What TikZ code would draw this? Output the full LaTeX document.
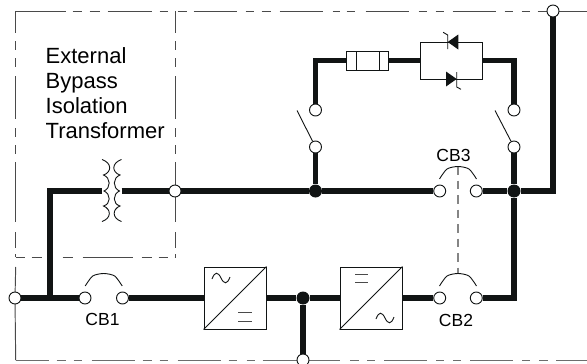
\documentclass[tikz,border=0pt]{standalone}
\usepackage{fontspec}
\setmainfont{Liberation Sans}
\usetikzlibrary{backgrounds}
\definecolor{ink}{HTML}{111414}
\definecolor{framec}{HTML}{4A4A4A}
\definecolor{linkc}{HTML}{858585}
\tikzset{
  bus/.style={line width=5.6pt,draw=ink,line cap=butt,line join=miter},
  thin/.style={line width=0.9pt,draw=ink},
  frameline/.style={line width=0.95pt,draw=framec},
  term/.style={circle,draw=ink,line width=0.9pt,fill=white,minimum size=12pt,inner sep=0pt},
  joint/.style={circle,fill=ink,draw=none,minimum size=13pt,inner sep=0pt},
  conv/.style={rectangle,draw=ink,line width=0.9pt,fill=white,minimum size=62pt,inner sep=0pt},
  vframe/.style={frameline,dash pattern=on 22pt off 8pt on 9pt off 8pt on 9pt off 9pt on 43pt off 9pt on 9pt off 8pt on 9pt off 8pt on 60pt off 10pt on 16pt off 6pt on 3pt off 200pt},
  cblabel/.style={inner sep=0pt,font=\fontsize{17.5}{20}\selectfont},
  pics/brk/.style={code={\draw[thin] plot[smooth,tension=0.45] coordinates {(-18.5,0) (-11,-10) (0,-12.5) (11,-10) (18.5,0)};}},
  pics/wave/.style={code={\draw[thin] (-9,1) .. controls (-6,-7) and (-3,-6) .. (0,0) .. controls (3,6) and (6,7) .. (9,-1);}},
  pics/coil/.style={code={\draw[thin] (0,-31.5) .. controls (10,-28) and (10,-19) .. (1.5,-16) .. controls (9,-13) and (9,-3) .. (2,0) .. controls (9,3) and (9,13) .. (1.5,15) .. controls (9,18) and (10,27) .. (0,30.5);}}
}
\begin{document}
\begin{tikzpicture}[x=1pt,y=-1pt]
\useasboundingbox (0,0) rectangle (587,364);
% free ends
\coordinate (tl) at (15.7,11);
\coordinate (tm) at (175,11);
\coordinate (tr) at (587,11);
\coordinate (bl) at (15.7,257);
\coordinate (bm) at (175,257);
\coordinate (ll) at (15.7,360);
\coordinate (lstub) at (15.7,267);
\coordinate (rr) at (587,360);
\coordinate (tee) at (50,298);
\coordinate (cl) at (102,191);
\coordinate (cr) at (121.5,191);
\coordinate (bladeL) at (297,110.5);
\coordinate (bladeR) at (495,110.5);
\coordinate (lkT) at (458,166);
\coordinate (lkB) at (458,273);
% terminals
\node[term] (inL) at (15,298) {};
\node[term] (cb1a) at (85,298) {};
\node[term] (cb1b) at (122.5,298) {};
\node[term] (cb2a) at (439.7,298) {};
\node[term] (cb2b) at (476.3,298) {};
\node[term] (cb3a) at (439.7,191) {};
\node[term] (cb3b) at (476.3,191) {};
\node[term] (xo) at (175,191) {};
\node[term] (top) at (553,11) {};
\node[term] (bot) at (303,360) {};
\node[term] (s1t) at (315.5,110) {};
\node[term] (s1b) at (315.5,147) {};
\node[term] (s2t) at (514,110) {};
\node[term] (s2b) at (514,147) {};
\node[joint] (j1) at (315.5,191) {};
\node[joint] (j2) at (514,191) {};
\node[joint] (j3) at (303,298) {};
% converters
\node[conv] (rect) at (235,298) {};
\node[conv] (inv) at (371,298) {};
% fuse and thyristor pair
\node[rectangle,draw=ink,line width=0.9pt,fill=white,minimum width=41.5pt,minimum height=19pt,inner sep=0pt] (fuse) at (367.5,60.5) {};
\node[rectangle,draw=ink,line width=0.9pt,minimum width=62pt,minimum height=37pt,inner sep=0pt] (scr) at (451.5,60.5) {};
% labels
\node[cblabel] (l1) at (102.5,319.5) {CB1};
\node[cblabel] (l2) at (456,320) {CB2};
\node[cblabel] (l3) at (453.5,155) {CB3};
\node[anchor=north west,inner sep=0pt,align=left,font=\fontsize{22}{25}\selectfont] (ttl) at (45.5,47) {External\\Bypass\\Isolation\\Transformer};
% interior symbols
\draw[thin] (rect.south west) -- (rect.north east);
\draw[thin] (inv.south west) -- (inv.north east);
\pic at (221,278) {wave};
\pic at (385,318) {wave};
\draw[thin,draw=framec] (238,312.7) -- (252,312.7) (238,321.7) -- (252,321.7);
\draw[thin,draw=framec] (355,274) -- (368,274) (355,282.7) -- (368,282.7);
\draw[thin] (356,51) -- (356,70) (379,51) -- (379,70);
\fill[ink] (447.7,42) -- (458.3,34.5) -- (458.3,49.5) -- cycle;
\draw[thin] (443.2,32.3) -- (447.7,35) -- (447.7,49);
\fill[ink] (456.7,79) -- (446,71.5) -- (446,86.5) -- cycle;
\draw[thin] (461,89.3) -- (456.7,87) -- (456.7,72);
\pic at (cl) {coil};
\pic[xscale=-1] at (cr) {coil};
\pic at (103.7,286) {brk};
\pic at (458,286) {brk};
\pic at (458,179) {brk};
\begin{scope}[on background layer]
  \fill[white] (0,0) rectangle (587,364);
  % frame
  \draw[frameline,dash pattern=on 50pt off 7pt on 9pt off 8pt on 10pt off 8pt on 44pt off 8pt on 8pt off 10pt on 9pt off 7pt on 43pt off 9pt on 8pt off 8pt on 9pt off 9pt on 43pt off 10pt on 7pt off 7pt on 8pt off 11pt on 43pt off 10pt on 8pt off 9pt on 8pt off 9pt on 43pt off 9pt on 8pt off 9pt on 8pt off 8pt on 60pt off 10pt] (tl) -- (tr);
  \draw[vframe] (tl) -- (bl);
  \draw[vframe] (tm) -- (bm);
  \draw[frameline,dash pattern=on 9pt off 7pt on 10pt off 21pt on 10pt off 10pt on 50pt off 9pt on 10pt off 7pt on 9pt off 7pt on 3pt off 100pt] (bl) -- (bm);
  \draw[frameline] (lstub) -- (inL.center) (inL.center) -- (ll);
  \draw[frameline,draw=linkc!60!framec,dash pattern=on 33pt off 8pt on 9pt off 8pt on 8pt off 10pt on 43pt off 8pt on 9pt off 8pt on 8pt off 10pt on 43pt off 8pt on 8pt off 10pt on 8pt off 8pt on 41pt off 100pt] (ll) -- (bot.center);
  \draw[frameline,draw=linkc!60!framec,dash pattern=on 37pt off 10pt on 9pt off 8pt on 8pt off 9pt on 43pt off 9pt on 8pt off 9pt on 8pt off 9pt on 43pt off 9pt on 8pt off 9pt on 9pt off 8pt on 40pt off 10pt] (bot.center) -- (rr);
  % CB link
  \draw[linkc,line width=1.2pt,dash pattern=on 8.5pt off 6pt] (lkT) -- (lkB);
  % blades
  \draw[thin] (bladeL) -- (s1b);
  \draw[thin] (bladeR) -- (s2b);
  % bus work
  \draw[bus] (inL) -- (cb1a);
  \draw[bus] (cl) -| (tee);
  \draw[bus] (cr) -- (xo);
  \draw[bus] (xo) -- (j1);
  \draw[bus] (j1) -- (cb3a);
  \draw[bus] (cb3b) -- (j2);
  \draw[bus] (j2) -| (top);
  \draw[bus] (j1) -- (s1b);
  \draw[bus] (s1t) |- (fuse);
  \draw[bus] (fuse) -- (scr);
  \draw[bus] (scr) -| (s2t);
  \draw[bus] (s2b) -- (j2);
  \draw[bus] (j2) |- (cb2b);
  \draw[bus] (cb2a) -- (inv);
  \draw[bus] (inv) -- (j3);
  \draw[bus] (j3) -- (rect);
  \draw[bus] (rect) -- (cb1b);
  \draw[bus] (j3) -- (bot);
\end{scope}
\end{tikzpicture}
\end{document}
